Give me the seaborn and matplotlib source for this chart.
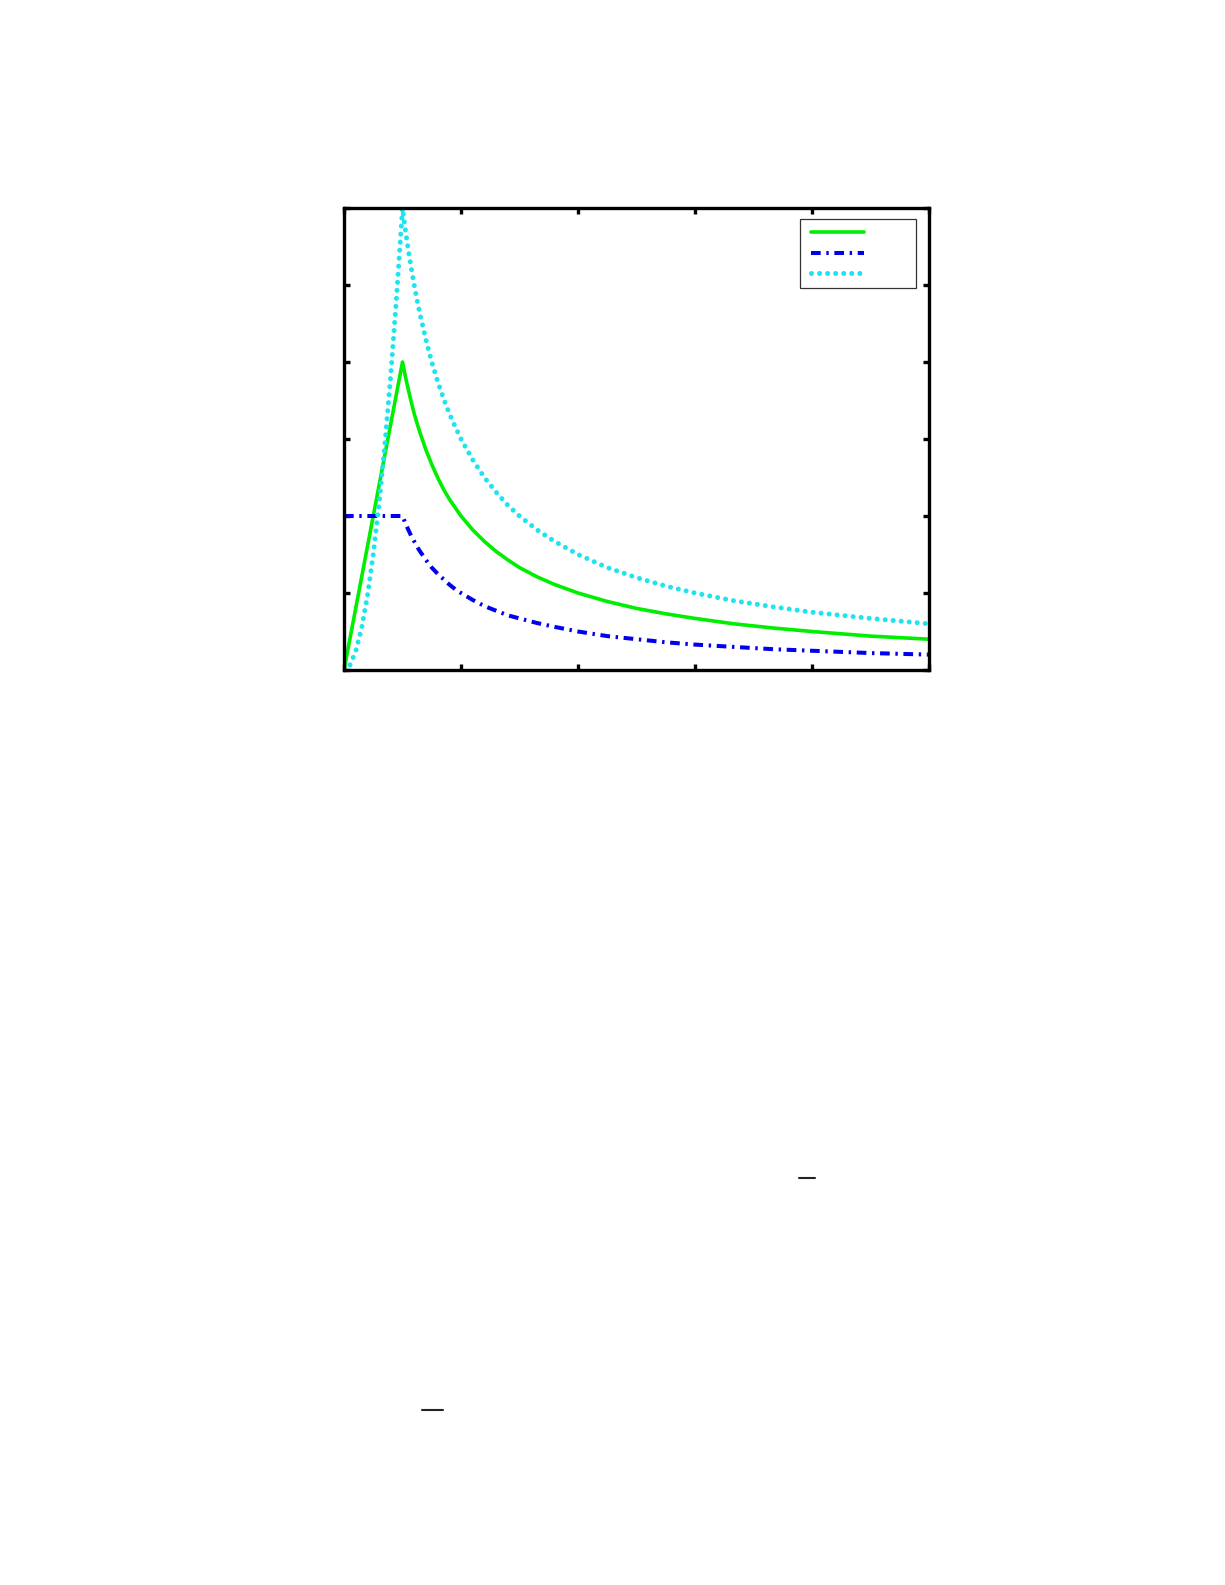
import matplotlib
matplotlib.use('Agg')
import matplotlib.pyplot as plt
from matplotlib.lines import Line2D
import seaborn as sns
import pandas as pd

# values (x axis 0..5, y axis 0..6, no tick labels)
x_vals = [0, 0.05, 0.1, 0.15, 0.2, 0.25, 0.3, 0.35, 0.4, 0.45, 0.5,
          0.525, 0.55, 0.575, 0.6, 0.625, 0.65, 0.7, 0.75, 0.8, 0.85,
          0.9, 0.95, 1.0, 1.1, 1.2, 1.3, 1.4, 1.5, 1.65, 1.8,
          2.0, 2.25, 2.5, 2.75, 3.0, 3.33, 3.67, 4.0, 4.5, 5.0]
green_vals = [0, 0.4, 0.8, 1.2, 1.6, 2.0, 2.4, 2.8, 3.2, 3.6, 4.0,
              3.81, 3.64, 3.48, 3.33, 3.2, 3.08, 2.86, 2.67, 2.5, 2.35,
              2.22, 2.11, 2.0, 1.82, 1.67, 1.54, 1.43, 1.33, 1.21, 1.11,
              1.0, 0.89, 0.8, 0.73, 0.67, 0.6, 0.545, 0.5, 0.44, 0.4]
blue_vals = [2.0, 2.0, 2.0, 2.0, 2.0, 2.0, 2.0, 2.0, 2.0, 2.0, 2.0,
             1.905, 1.82, 1.74, 1.67, 1.6, 1.54, 1.43, 1.33, 1.25, 1.18,
             1.11, 1.05, 1.0, 0.91, 0.83, 0.77, 0.71, 0.67, 0.61, 0.56,
             0.5, 0.44, 0.4, 0.36, 0.33, 0.3, 0.27, 0.25, 0.22, 0.2]
cyan_vals = [0, 0.06, 0.24, 0.54, 0.96, 1.5, 2.16, 2.94, 3.84, 4.86, 6.0,
             5.71, 5.45, 5.22, 5.0, 4.8, 4.62, 4.29, 4.0, 3.75, 3.53,
             3.33, 3.16, 3.0, 2.73, 2.5, 2.31, 2.14, 2.0, 1.82, 1.67,
             1.5, 1.33, 1.2, 1.09, 1.0, 0.9, 0.82, 0.75, 0.67, 0.6]
legend_labels = [' ', ' ', ' ']

df = pd.DataFrame({'x': x_vals, 'green': green_vals, 'blue': blue_vals, 'cyan': cyan_vals})

sns.set_style('white')
W, H = 1225, 1585
fig = plt.figure(figsize=(W / 100, H / 100), dpi=100)
ax = fig.add_axes([344 / W, 1 - 670 / H, (929 - 344) / W, (670 - 208) / H])

sns.lineplot(data=df, x='x', y='green', color='#00ee00', lw=2.6,
             solid_capstyle='round', ax=ax, legend=False)
sns.lineplot(data=df, x='x', y='blue', color='#0000ee', lw=2.9,
             linestyle=(0, (2.4, 1.4, 0.6, 1.4)), dash_capstyle='butt',
             ax=ax, legend=False)
sns.lineplot(data=df, x='x', y='cyan', color='#1ee4f0', lw=3.6,
             linestyle=(0, (0.01, 1.6)), dash_capstyle='round',
             ax=ax, legend=False)

ax.set_xlim(0, 5)
ax.set_ylim(0, 6)
ax.set_xticks([0, 1, 2, 3, 4, 5])
ax.set_yticks([0, 1, 2, 3, 4, 5, 6])
ax.set_xlabel('')
ax.set_ylabel('')
ax.tick_params(direction='in', top=True, right=True, bottom=True, left=True,
               labelbottom=False, labelleft=False, length=4.3, width=2.4,
               color='black')
for sp in ax.spines.values():
    sp.set_visible(True)
    sp.set_color('black')
    sp.set_linewidth(2.4)

# legend with no text: tiny font so the handles set the row heights
handles = list(ax.lines[:3])
leg = ax.legend(handles, legend_labels, loc='upper right',
                bbox_to_anchor=((916 - 344) / (929 - 344), (670 - 219) / (670 - 208)),
                borderaxespad=0, fontsize=3, handlelength=12.7, handleheight=1.7,
                handletextpad=9.5, labelspacing=3.6, borderpad=2.63,
                frameon=True, fancybox=False, edgecolor='black')
leg.get_frame().set_linewidth(0.9)

# two stray dashes further down the page
fig.add_artist(Line2D([799 / W, 815 / W], [1 - 1177.7 / H] * 2, color='#222222', lw=1.5))
fig.add_artist(Line2D([422 / W, 443 / W], [1 - 1410 / H] * 2, color='#222222', lw=1.5))

fig.savefig('out.png', dpi=100, facecolor='white')
